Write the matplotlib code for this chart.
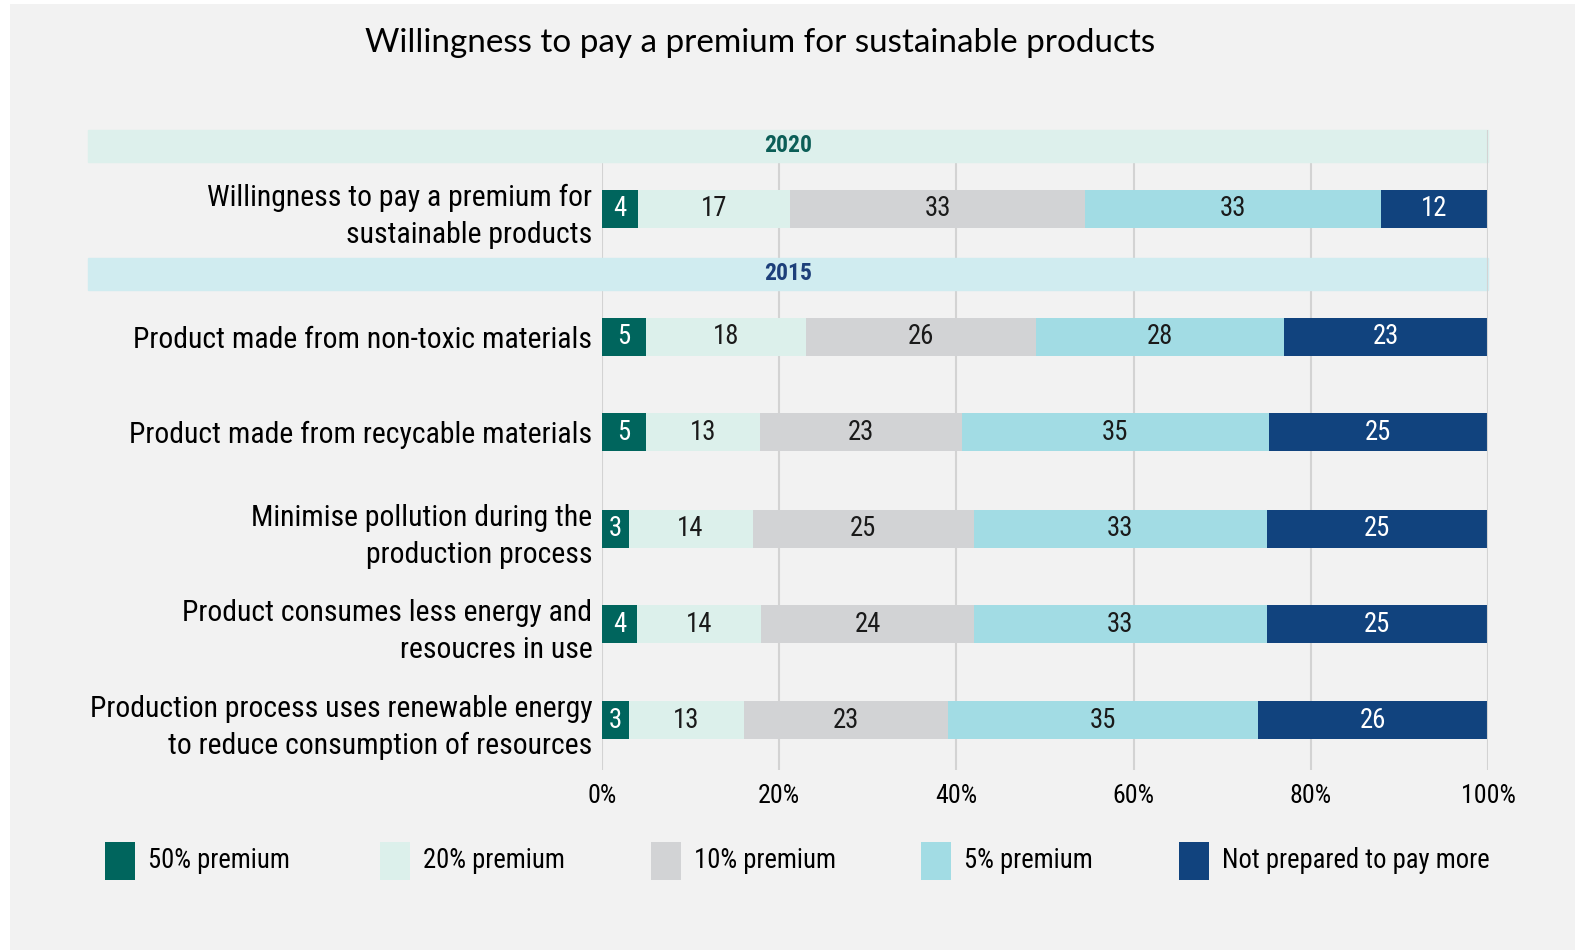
import numpy as np
import matplotlib
matplotlib.use('Agg')
import matplotlib.pyplot as plt
from matplotlib.patches import Rectangle
from matplotlib import font_manager

# 选一个尽量窄的字体
installed = {f.name for f in font_manager.fontManager.ttflist}
preferred = ['Liberation Sans Narrow', 'Roboto Condensed', 'Open Sans Condensed',
             'Noto Sans Condensed', 'Liberation Sans', 'DejaVu Sans']
FONT = next(f for f in preferred if f in installed)
TITLE_FONT = next(f for f in ['Lato', 'Open Sans', 'Liberation Sans', 'DejaVu Sans'] if f in installed)
plt.rcParams['font.family'] = [FONT, 'DejaVu Sans']

# 数据
categories = [
    'Willingness to pay a premium for\nsustainable products',
    'Product made from non-toxic materials',
    'Product made from recycable materials',
    'Minimise pollution during the\nproduction process',
    'Product consumes less energy and\nresoucres in use',
    'Production process uses renewable energy\nto reduce consumption of resources',
]
series_names = ['50% premium', '20% premium', '10% premium', '5% premium', 'Not prepared to pay more']
p50 = [4, 5, 5, 3, 4, 3]
p20 = [17, 18, 13, 14, 14, 13]
p10 = [33, 26, 23, 25, 24, 23]
p5 = [33, 28, 35, 33, 33, 35]
p0 = [12, 23, 25, 25, 25, 26]
years = ['2020', '2015']
tick_vals = [0, 20, 40, 60, 80, 100]
tick_labels = ['0%', '20%', '40%', '60%', '80%', '100%']
title = 'Willingness to pay a premium for sustainable products'

colors = ['#00655d', '#dcf0eb', '#d2d3d5', '#a2dce4', '#11437e']
text_colors = ['white', '#1a1a1a', '#1a1a1a', '#1a1a1a', 'white']
year_colors = ['#0b5e57', '#1d3f7a']
band_colors = ['#ddf0ec', '#d0ecf0']
BG = '#f2f2f2'

# 布局（像素单位）
W, H = 1575, 950
row_y = [209, 337, 432, 529, 624, 720]
band_y = [(130, 162), (258, 290)]
bar_h = 38

fig = plt.figure(figsize=(W / 100, H / 100), dpi=100, facecolor='white')
renderer = fig.canvas.get_renderer()


def fit_size(s, target_px, base=20, **kw):
    """按目标像素宽度求字号"""
    t = fig.text(0, 0, s, fontsize=base, **kw)
    w = t.get_window_extent(renderer).width
    t.remove()
    return base * target_px / w


fs_label = min(fit_size('Product made from non-toxic materials', 458), 24)
fs_title = min(fit_size(title, 792, family=TITLE_FONT), 24)
fs_legend = min(fit_size('Not prepared to pay more', 267), 20)
fs_tick = min(fit_size('100%', 55), 19)
fs_val = fs_tick * 1.03
fs_year = min(fit_size('2020', 48, fontweight='bold'), 17)

fig.patches.append(Rectangle((10 / W, 0), 1, 1 - 4 / H, transform=fig.transFigure,
                             facecolor=BG, edgecolor='none', zorder=-10))

ax = fig.add_axes([602 / W, 1 - 770 / H, 886 / W, 640 / H])
ax.set_facecolor('none')
ax.set_xlim(0, 100)
ax.set_ylim(770, 130)

data = np.array([p50, p20, p10, p5, p0], dtype=float)
pct = data / data.sum(axis=0) * 100
left = np.zeros(len(categories))
for i in range(len(series_names)):
    ax.barh(row_y, pct[i], left=left, height=bar_h, color=colors[i], zorder=2,
            label=series_names[i])
    for j in range(len(categories)):
        ax.text(left[j] + pct[i][j] / 2, row_y[j], str(int(data[i][j])),
                ha='center', va='center', fontsize=fs_val, color=text_colors[i], zorder=4)
    left += pct[i]

# 网格线
ax.vlines(tick_vals[:-1], 162, 770, color='#d3d3d3', lw=1.5, zorder=0)
ax.vlines(100, 130, 770, color='#d3d3d3', lw=1.5, zorder=3)

# 年份横条
xmin = (88 - 602) / 886
for (y0, y1), yr, bc, tc in zip(band_y, years, band_colors, year_colors):
    ax.axhspan(y0, y1, xmin=xmin, xmax=1, color=bc, zorder=1, clip_on=False)
    ax.text(21, (y0 + y1) / 2, yr, ha='center', va='center', fontsize=fs_year,
            color=tc, fontweight='bold', zorder=4)

ax.set_xticks(tick_vals, tick_labels, fontsize=fs_tick)
ax.set_yticks(row_y, categories, fontsize=fs_label, linespacing=1.4)
ax.tick_params(axis='x', length=0, pad=10)
ax.tick_params(axis='y', length=0, pad=7)
for s in ax.spines.values():
    s.set_visible(False)

fig.text(760 / W, 1 - 43 / H, title, ha='center', va='center', fontsize=fs_title,
         family=[TITLE_FONT, 'DejaVu Sans'])

# 图例
leg_x = [105, 380, 651, 921, 1179]
for x, name, c in zip(leg_x, series_names, colors):
    fig.patches.append(Rectangle((x / W, 1 - 880 / H), 30 / W, 38 / H,
                                 transform=fig.transFigure, facecolor=c, edgecolor='none'))
    fig.text((x + 43) / W, 1 - 861 / H, name, ha='left', va='center', fontsize=fs_legend)

fig.savefig('out.png', dpi=100, facecolor=fig.get_facecolor())
